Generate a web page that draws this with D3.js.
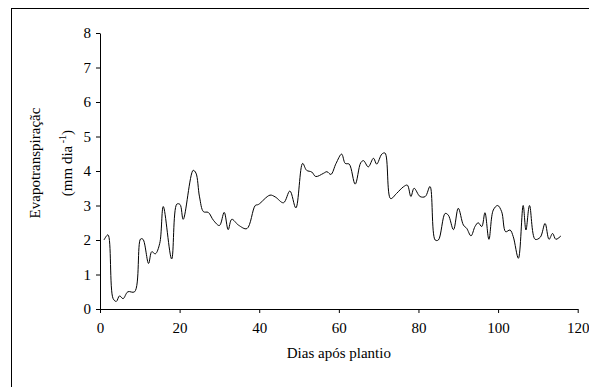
<!DOCTYPE html>
<html>
<head>
<meta charset="utf-8">
<script src="https://cdn.jsdelivr.net/npm/d3@7"></script>
<style>
  body { margin: 0; background: #fff; }
  svg text { font-family: "Liberation Serif", "Times New Roman", serif; fill: #000; }
</style>
</head>
<body>
<div id="viz-container"></div>
<script>
// days after planting and ET values
const days = [1, 2, 3.3, 4.1, 4.9, 5.8, 7, 8.7, 10.2, 10.8, 12.2, 13, 13.9, 15, 15.9, 18,
  19.3, 20.1, 20.9, 23.4, 24.1, 25, 26, 27.2, 28.5, 30, 31.2, 32.2, 33.1, 34.8, 36.9,
  39, 39.8, 42.7, 44, 46.1, 47.7, 49.2, 50.9, 51.9, 53.2, 54.2, 56.1, 57, 58, 59.3,
  60.7, 61.6, 62.6, 64.1, 65.5, 66.2, 67.4, 68.7, 69.5, 70.8, 71.6, 73, 74.5, 76.2,
  77.2, 78.1, 78.9, 80.4, 81.7, 82.9, 84.2, 85, 86.7, 87.5, 88.8, 90, 91.3, 92.1,
  93.2, 94.2, 95, 95.9, 96.7, 97.7, 98.8, 99.9, 100.9, 101.9, 103, 103.8, 105.1,
  106.3, 107, 107.9, 109.3, 110.6, 111.8, 112.8, 113.7, 114.5, 115.8];
const et = [2.0, 2.15, 0.3, 0.22, 0.38, 0.3, 0.5, 0.5, 2.03, 2.02, 1.32, 1.66, 1.6, 1.9, 2.97, 1.45,
  3.04, 3.03, 2.6, 4.02, 3.94, 3.25, 2.82, 2.8, 2.57, 2.42, 2.8, 2.3, 2.6, 2.43, 2.33,
  3.0, 3.03, 3.3, 3.25, 3.08, 3.42, 2.93, 4.22, 4.02, 3.97, 3.84, 3.93, 3.98, 3.9, 4.22,
  4.49, 4.22, 4.2, 3.62, 4.24, 4.3, 4.12, 4.37, 4.2, 4.49, 4.52, 3.2, 3.35, 3.54,
  3.59, 3.26, 3.5, 3.26, 3.26, 3.55, 2.0, 2.0, 2.77, 2.72, 2.3, 2.92, 2.43, 2.34,
  2.12, 2.39, 2.5, 2.39, 2.79, 2.02, 2.87, 3.0, 2.82, 2.24, 2.29, 2.1, 1.47,
  3.0, 2.29, 3.0, 2.02, 2.08, 2.48, 2.02, 2.19, 2.02, 2.12];
const xTicks = [0, 20, 40, 60, 80, 100, 120];
const yTicks = [0, 1, 2, 3, 4, 5, 6, 7, 8];

const width = 589, height = 387,
      margin = {top: 33, bottom: 78, left: 100, right: 11.3},
      fontSize = 15;

const x = d3.scaleLinear().domain([0, 120]).range([margin.left, width - margin.right]);
const y = d3.scaleLinear().domain([0, 8]).range([height - margin.bottom, margin.top]);

const svg = d3.select('#viz-container')
  .append('svg')
    .attr('width', width)
    .attr('height', height);

// outer frame
svg.append('rect')
  .attr('x', 11.5).attr('y', 8.5)
  .attr('width', 620).attr('height', 420)
  .attr('fill', 'none').attr('stroke', '#000').attr('stroke-width', 1);

const xAxis = svg.append('g')
  .attr('transform', 'translate(0,' + y(0) + ')')
  .call(d3.axisBottom(x).tickValues(xTicks).tickSize(4).tickSizeOuter(0).tickPadding(9));

const yAxis = svg.append('g')
  .attr('transform', 'translate(' + x(0) + ',0)')
  .call(d3.axisLeft(y).tickValues(yTicks).tickSize(4).tickSizeOuter(0).tickPadding(5));

[xAxis, yAxis].forEach(g => {
  g.selectAll('text').attr('font-size', fontSize);
  g.select('.domain').attr('stroke', '#000');
  g.selectAll('.tick line').attr('stroke', '#000');
});

const line = d3.line()
  .x((d, i) => x(days[i]))
  .y(d => y(d))
  .curve(d3.curveCatmullRom.alpha(0.5));

svg.append('path')
  .datum(et)
  .attr('d', line)
  .attr('fill', 'none')
  .attr('stroke', '#000')
  .attr('stroke-width', 1);

svg.append('text')
  .attr('x', (x(0) + x(120)) / 2)
  .attr('y', 358)
  .attr('text-anchor', 'middle')
  .attr('font-size', fontSize)
  .text('Dias após plantio');

const yTitle = svg.append('text')
  .attr('transform', 'translate(40,163) rotate(-90)')
  .attr('text-anchor', 'middle')
  .attr('font-size', fontSize);
yTitle.append('tspan').attr('x', 0).attr('y', 0).text('Evapotranspiraçãc');
yTitle.append('tspan').attr('x', 0).attr('y', 32).text('(mm dia');
yTitle.append('tspan').attr('dy', -6).attr('font-size', 10).text(' -1');
yTitle.append('tspan').attr('dy', 6).text(')');
</script>
</body>
</html>
